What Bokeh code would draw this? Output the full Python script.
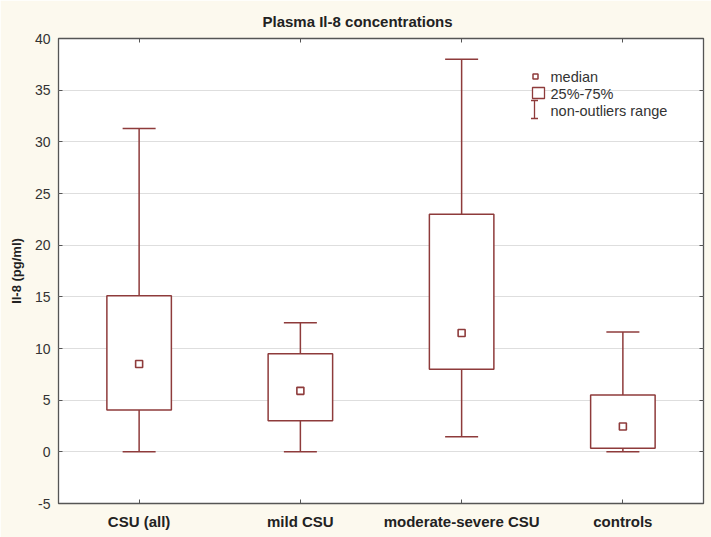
from bokeh.plotting import figure
from bokeh.models import (FactorRange, Range1d, ColumnDataSource, Whisker, TeeHead,
                          LinearAxis, CategoricalAxis, FixedTicker, BoxAnnotation, Label)
from bokeh.embed import file_html
from bokeh.resources import INLINE

# ---- data ----
categories = ["CSU (all)", "mild CSU", "moderate-severe CSU", "controls"]
whisker_low = [0.0, 0.0, 1.45, 0.0]
q1 = [4.05, 3.0, 8.0, 0.35]
median = [8.5, 5.9, 11.5, 2.45]
q3 = [15.1, 9.5, 23.0, 5.5]
whisker_high = [31.3, 12.5, 38.0, 11.6]
y_ticks = [-5, 0, 5, 10, 15, 20, 25, 30, 35, 40]
legend_labels = ["median", "25%-75%", "non-outliers range"]

# ---- style ----
FONT = "Liberation Sans"
RED = "#8e3b3b"
CREAM = "#fcf9ee"
FRAME = "#555555"
Y_MIN, Y_MAX = -5, 40
FW, FH = 645, 465

src = ColumnDataSource(dict(cat=categories, lo=whisker_low, q1=q1, med=median,
                            q3=q3, hi=whisker_high))

p = figure(x_range=FactorRange(factors=categories), y_range=Range1d(Y_MIN, Y_MAX),
           frame_width=FW, frame_height=FH, output_backend="svg", toolbar_location=None,
           min_border_left=58, min_border_top=38, min_border_bottom=34, min_border_right=8,
           background_fill_color="white", border_fill_color=CREAM,
           outline_line_color=FRAME, outline_line_width=1.3,
           title="Plasma Il-8 concentrations")

p.title.align = "left"
p.title.offset = 204
p.title.text_font = FONT
p.title.text_font_size = "15px"
p.title.text_font_style = "bold"
p.title.text_color = "#222222"
p.title.standoff = 18

# grid
p.xgrid.grid_line_color = None
p.ygrid.grid_line_color = "#dedede"
p.ygrid.grid_line_width = 1
p.ygrid.ticker = FixedTicker(ticks=y_ticks)

# left axis
ya = p.yaxis[0]
ya.ticker = FixedTicker(ticks=y_ticks)
ya.major_label_overrides = {t: str(t) for t in y_ticks}
ya.axis_label = "Il-8 (pg/ml)"
ya.axis_label_text_font = FONT
ya.axis_label_text_font_size = "13px"
ya.axis_label_text_font_style = "bold"
ya.axis_label_text_color = "#222222"
ya.axis_label_standoff = 8
ya.major_label_text_font = FONT
ya.major_label_text_font_size = "14px"
ya.major_label_text_color = "#333333"
ya.major_label_standoff = 8
ya.major_tick_in = 4
ya.major_tick_out = 0
ya.minor_tick_line_color = None
ya.major_tick_line_color = FRAME
ya.axis_line_color = None

# bottom axis
xa = p.xaxis[0]
xa.major_label_text_font = FONT
xa.major_label_text_font_size = "15px"
xa.major_label_text_font_style = "bold"
xa.major_label_text_color = "#222222"
xa.major_label_standoff = 9
xa.major_tick_in = 4
xa.major_tick_out = 0
xa.major_tick_line_color = FRAME
xa.axis_line_color = None

# top and right axes (ticks only, no labels)
top = CategoricalAxis(major_label_text_color=None, major_label_standoff=0,
                      major_tick_in=4, major_tick_out=0, major_tick_line_color=FRAME,
                      axis_line_color=None)
p.add_layout(top, "above")
right = LinearAxis(ticker=FixedTicker(ticks=y_ticks),
                   major_label_overrides={t: "" for t in y_ticks},
                   major_label_standoff=0, major_tick_in=4, major_tick_out=0,
                   major_tick_line_color=FRAME, minor_tick_line_color=None,
                   axis_line_color=None)
p.add_layout(right, "right")

# whiskers (non-outlier range)
wk = Whisker(base="cat", lower="lo", upper="hi", source=src, level="underlay",
             line_color=RED, line_width=1.5,
             upper_head=TeeHead(size=33, line_color=RED, line_width=1.5),
             lower_head=TeeHead(size=33, line_color=RED, line_width=1.5))
p.add_layout(wk)

# boxes (25%-75%)
p.vbar(x="cat", top="q3", bottom="q1", width=0.4, source=src,
       fill_color="white", line_color=RED, line_width=1.5)

# medians
p.scatter(x="cat", y="med", source=src, marker="square", size=7,
          fill_color="white", line_color=RED, line_width=1.6)

# ---- legend drawn from annotations (pixel offsets from the frame's top-left) ----
n_cat = len(categories)
def fx(px):
    return px * n_cat / FW
def fy(py):
    return Y_MAX - py * (Y_MAX - Y_MIN) / FH

p.add_layout(BoxAnnotation(left=fx(474.5), right=fx(479.5), top=fy(35.5), bottom=fy(40.5),
                           fill_color="white", fill_alpha=1, line_color=RED,
                           line_alpha=1, line_width=1.5))
p.add_layout(BoxAnnotation(left=fx(474), right=fx(486), top=fy(49), bottom=fy(60),
                           fill_color="white", fill_alpha=1, line_color=RED,
                           line_alpha=1, line_width=1.3))
leg_src = ColumnDataSource(dict(b=[fx(476)], lo=[fy(80)], hi=[fy(62)]))
p.add_layout(Whisker(base="b", lower="lo", upper="hi", source=leg_src,
                     line_color=RED, line_width=1.3,
                     upper_head=TeeHead(size=7, line_color=RED, line_width=1.3),
                     lower_head=TeeHead(size=7, line_color=RED, line_width=1.3)))
for lab, py in zip(legend_labels, [38, 55, 72]):
    p.add_layout(Label(x=fx(492), y=fy(py), text=lab, text_baseline="middle",
                       text_align="left", text_font=FONT, text_font_size="14.5px",
                       text_color="#333333"))

open("out.html", "w").write(file_html(p, INLINE))
